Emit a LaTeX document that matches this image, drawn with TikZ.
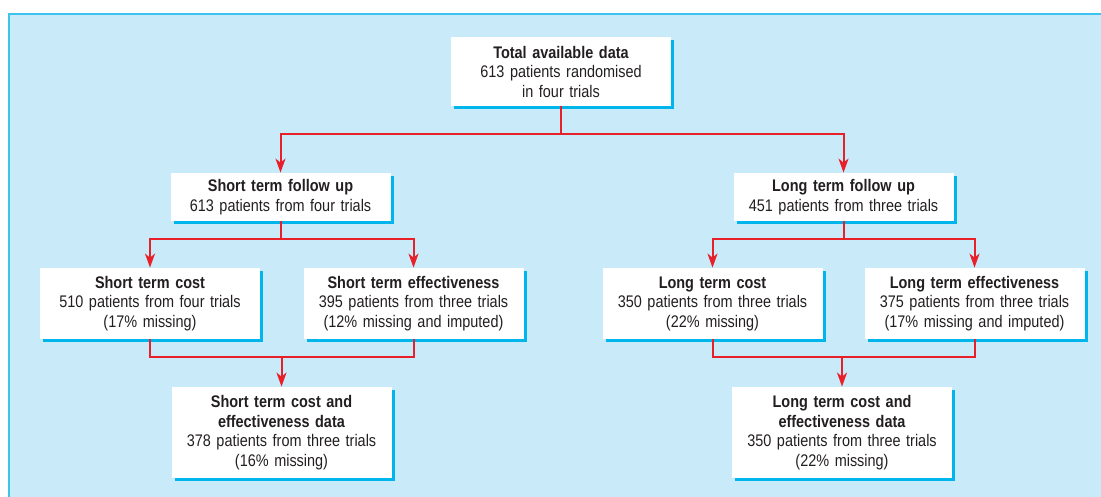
\documentclass[tikz,border=0pt]{standalone}
\usepackage{fontspec}
\setmainfont[FakeStretch=0.86]{Liberation Sans}
\usetikzlibrary{arrows.meta, shadows}

\definecolor{panelblue}{RGB}{200,234,249}
\definecolor{edgeblue}{RGB}{60,195,240}
\definecolor{shadeblue}{RGB}{0,180,236}
\definecolor{linkred}{RGB}{232,32,42}
\definecolor{inkgrey}{RGB}{35,31,32}

\begin{document}
\begin{tikzpicture}[x=0.5pt,y=-0.5pt]
\tikzset{
  box/.style={fill=white, text=inkgrey, align=center, inner xsep=1pt, inner ysep=0pt,
    text width=108pt, minimum height=#1, font=\fontsize{8.4}{9.75}\selectfont,
    drop shadow={shadow xshift=1.6pt, shadow yshift=-1.6pt, fill=shadeblue, opacity=1}},
  link/.style={draw=linkred, line width=1pt},
  arr/.style={link, -{Stealth[length=7pt, width=5pt, inset=2pt]}}
}

% panel
\useasboundingbox (0,0) rectangle (1101,497);
\fill[panelblue] (9,14) rectangle (1101,497);
\draw[edgeblue, line width=1pt] (9,497) -- (9,14) -- (1101,14);

% boxes
\node[box=34.5pt] (tot) at (561,71.5) {\textbf{Total available data}\\613 patients randomised\\in four trials};

\node[box=24pt] (sfu) at (280.5,197) {\textbf{Short term follow up}\\613 patients from four trials};
\node[box=24pt] (lfu) at (843.5,197) {\textbf{Long term follow up}\\451 patients from three trials};

\node[box=35.5pt] (sc) at (150,303.5) {\textbf{Short term cost}\\510 patients from four trials\\(17\% missing)};
\node[box=35.5pt] (se) at (413.5,303.5) {\textbf{Short term effectiveness}\\395 patients from three trials\\(12\% missing and imputed)};
\node[box=35.5pt] (lc) at (712.5,303.5) {\textbf{Long term cost}\\350 patients from three trials\\(22\% missing)};
\node[box=35.5pt] (le) at (974.5,303.5) {\textbf{Long term effectiveness}\\375 patients from three trials\\(17\% missing and imputed)};

\node[box=45.5pt] (sce) at (281.5,432.5) {\textbf{Short term cost and}\\\textbf{effectiveness data}\\378 patients from three trials\\(16\% missing)};
\node[box=45.5pt] (lce) at (842,432.5) {\textbf{Long term cost and}\\\textbf{effectiveness data}\\350 patients from three trials\\(22\% missing)};

% splits
\draw[arr] (tot.south) -- ++(0,28) -| (sfu.north);
\draw[arr] (tot.south) -- ++(0,28) -| (lfu.north);
\draw[arr] (sfu.south) -- ++(0,18) -| (sc.north);
\draw[arr] (sfu.south) -- ++(0,18) -| (se.north);
\draw[arr] (lfu.south) -- ++(0,18) -| (lc.north);
\draw[arr] (lfu.south) -- ++(0,18) -| (le.north);

% joins
\draw[link] (sc.south) -- ++(0,18) -| (se.south);
\path (sc.south) ++(0,18) coordinate (sjoin);
\draw[arr] (sjoin -| sce.north) -- (sce.north);
\draw[link] (lc.south) -- ++(0,18) -| (le.south);
\path (lc.south) ++(0,18) coordinate (ljoin);
\draw[arr] (ljoin -| lce.north) -- (lce.north);
\end{tikzpicture}
\end{document}
